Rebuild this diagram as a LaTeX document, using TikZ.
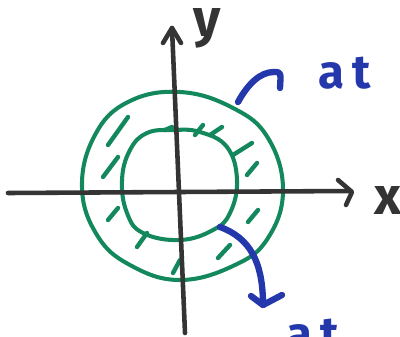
\documentclass[tikz,border=0pt]{standalone}
\usepackage{fontspec}
\setmainfont{Fira Sans}
\begin{document}
\begin{tikzpicture}[x=0.02cm,y=-0.02cm,
  axis/.style={line width=2.6pt,draw=axisgray,line cap=round,line join=round},
  ring/.style={line width=2.3pt,draw=ringgreen},
  hatch/.style={line width=2.5pt,draw=ringgreen,line cap=round},
  bluearrow/.style={line width=3.6pt,draw=penblue,line cap=round,line join=round},
  bluetext/.style={text=penblue,font=\fontsize{27}{27}\selectfont\bfseries,inner sep=0pt},
  graytext/.style={text=axisgray,font=\fontsize{30}{30}\selectfont\bfseries,inner sep=0pt}]
\definecolor{axisgray}{RGB}{52,52,52}
\definecolor{ringgreen}{RGB}{18,136,92}
\definecolor{penblue}{RGB}{36,56,172}
\useasboundingbox (0,0) rectangle (400,336);
\clip (0,0) rectangle (400,336);
% rings
\draw[ring] plot[smooth cycle,tension=0.7] coordinates {(180,92) (233,108) (268,138) (283,190) (268,238) (235,265) (180,280) (130,265) (97,235) (82,187) (95,135) (128,102)};
\draw[ring] plot[smooth cycle,tension=0.7] coordinates {(173,130) (200,132) (227,147) (237,180) (230,213) (213,230) (180,240) (143,233) (127,213) (122,180) (130,150) (147,133)};
% hatch marks
\draw[hatch] (108,145) -- (128,117);
\draw[hatch] (103,177) -- (118,157);
\draw[hatch] (108,220) -- (118,208);
\draw[hatch] (137,247) -- (147,233);
\draw[hatch] (173,273) -- (180,260);
\draw[hatch] (218,258) -- (230,245);
\draw[hatch] (248,222) -- (258,210);
\draw[hatch] (247,175) -- (257,163);
\draw[hatch] (233,155) -- (252,143);
\draw[hatch] (210,135) -- (222,127);
\draw[hatch] (195,135) -- (203,125);
\draw[hatch] (165,130) -- (172,127);
% axes
\coordinate (xs) at (8,193);
\coordinate (xe) at (350,191);
\coordinate (ys) at (185,333);
\coordinate (ye) at (172,28);
\draw[axis] (xs) -- (xe);
\draw[axis] (338,180) -- (352,192) -- (346,205);
\draw[axis] (ys) -- (ye);
\draw[axis] (163,43) -- (ye) -- (181,43);
\node[graytext,anchor=base] (xl) at (388,214) {x};
\node[graytext,anchor=base] (yl) at (207,36) {y};
% blue arrows
\coordinate (a1) at (238,102);
\coordinate (a2) at (274,72);
\draw[bluearrow] (a1) .. controls (248,84) and (260,72) .. (a2) .. controls (281,72) .. (280,88);
\node[bluetext] (t1) at (345,73) {a\,t};
\coordinate (b1) at (220,227);
\coordinate (b2) at (263,305);
\draw[bluearrow] (b1) .. controls (250,238) and (263,262) .. (b2);
\draw[bluearrow] (251,296) -- (b2) -- (282,295);
\node[bluetext,anchor=north west] (t2) at (286,317) {a\,t\hspace{1.6em}3};
\end{tikzpicture}
\end{document}
